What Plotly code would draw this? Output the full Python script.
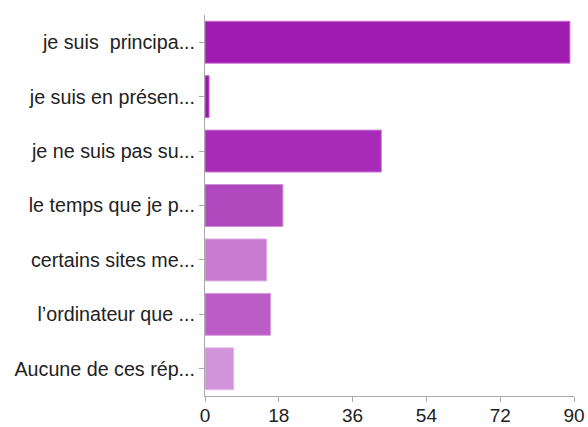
import plotly.graph_objects as go

categories = [
    "je suis\u00a0 principa...",
    "je suis en présen...",
    "je ne suis pas su...",
    "le temps que je p...",
    "certains sites me...",
    "l\u2019ordinateur que ...",
    "Aucune de ces rép...",
]
counts = [89, 1, 43, 19, 15, 16, 7]
bar_colors = ["#A01BB0", "#9C14AF", "#A62BB7", "#B048BE", "#C77BD1", "#BA5DC7", "#D193DA"]
edge_colors = ["#C86FD2", "#C86FD2", "#CC7BD5", "#D08FD8", "#DDAAE3", "#D59CDC", "#E3BCE8"]
x_ticks = [0, 18, 36, 54, 72, 90]

fig = go.Figure(
    go.Bar(
        x=counts,
        y=categories,
        orientation="h",
        marker=dict(color=bar_colors, line=dict(color=edge_colors, width=1)),
        hoverinfo="x+y",
    )
)

fig.update_layout(
    width=588,
    height=427,
    margin=dict(l=205, r=14, t=15, b=31),
    paper_bgcolor="white",
    plot_bgcolor="white",
    bargap=0.23,
    showlegend=False,
    font=dict(family="Liberation Sans, Arial, sans-serif", color="#222222"),
)

fig.update_xaxes(
    range=[0, 90],
    tickvals=x_ticks,
    ticktext=[str(v) for v in x_ticks],
    showgrid=False,
    zeroline=False,
    showline=True,
    linecolor="#AAAAAA",
    linewidth=1,
    ticks="outside",
    ticklen=5,
    tickcolor="#AAAAAA",
    tickfont=dict(size=19, color="#222222"),
    ticklabelstandoff=-3,
    automargin=False,
)

fig.update_yaxes(
    categoryorder="array",
    categoryarray=categories,
    autorange="reversed",
    showgrid=False,
    zeroline=False,
    showline=True,
    linecolor="#AAAAAA",
    linewidth=1,
    ticks="outside",
    ticklen=5,
    tickcolor="#AAAAAA",
    tickfont=dict(size=19.7, color="#222222"),
    automargin=False,
)

fig.write_html("out.html")
